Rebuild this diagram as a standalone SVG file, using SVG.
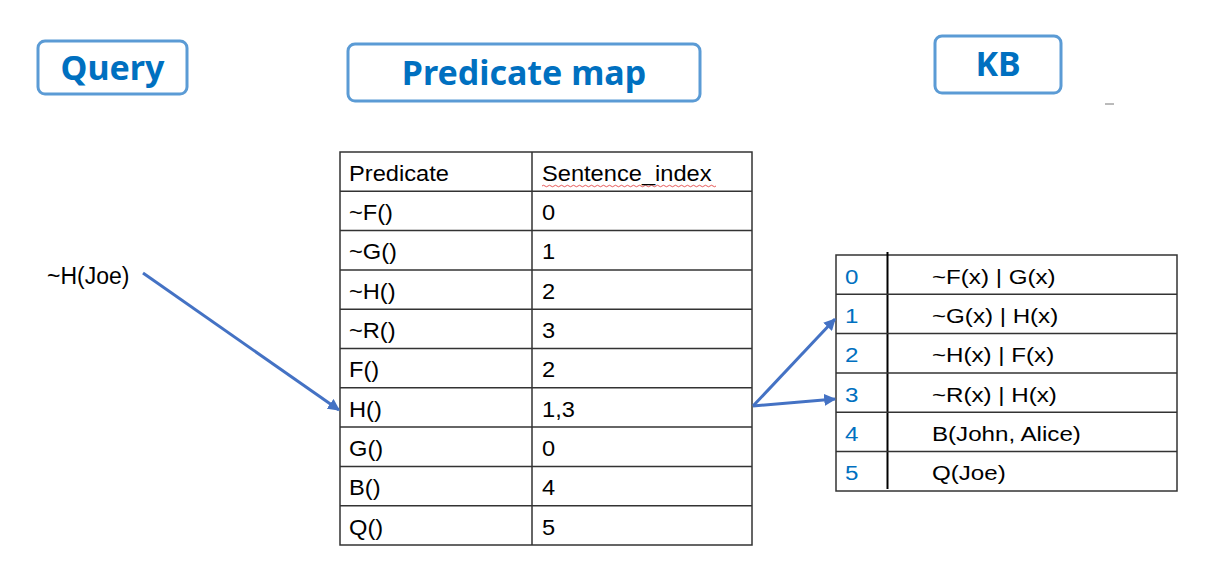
<svg xmlns="http://www.w3.org/2000/svg" width="1209" height="573" viewBox="0 0 1209 573">
<defs>
<style>
.title{fill:#fff;stroke:#5B9BD5;stroke-width:3}
.tt{font-family:"Noto Sans","Open Sans",sans-serif;font-weight:bold;font-size:34px;fill:#0070C0;text-anchor:middle}
.cell{font-family:"Liberation Sans",Arial,sans-serif;font-size:21px;fill:#000}
.pcell{font-family:"Liberation Sans",Arial,sans-serif;font-size:21.5px;fill:#000}
.qtext{font-family:"Liberation Sans",Arial,sans-serif;font-size:23px;fill:#000}
.num{font-family:"Liberation Sans",Arial,sans-serif;font-size:21px;fill:#0070C0}
.grid{stroke:#333;stroke-width:1.5;fill:none}
.conn{stroke:#4472C4;stroke-width:3;fill:none}
</style>
<marker id="ah" viewBox="0 0 10 10" refX="9" refY="5" markerWidth="4" markerHeight="4" orient="auto" markerUnits="strokeWidth">
<path d="M0,0 L10,5 L0,10 z" fill="#4472C4"/>
</marker>
</defs>
<rect width="1209" height="573" fill="#fff"/>

<g id="query-title">
<rect class="title" x="38" y="41" width="149" height="53" rx="7"/>
<text class="tt" x="112.5" y="80">Query</text>
</g>
<g id="predmap-title">
<rect class="title" x="348" y="44" width="352" height="57" rx="7"/>
<text class="tt" x="524" y="85">Predicate map</text>
</g>
<g id="kb-title">
<rect class="title" x="935" y="36" width="126" height="57" rx="7"/>
<text class="tt" x="998" y="76">KB</text>
</g>
<line x1="1105" y1="104" x2="1114" y2="104" stroke="#777" stroke-width="1"/>

<g id="query">
<text class="qtext" x="47" y="284">~H(Joe)</text>
</g>

<g id="predicate-table">
<rect class="grid" x="340" y="152" width="412" height="393"/>
<line class="grid" x1="532" y1="152" x2="532" y2="545"/>
<g class="grid">
<line x1="340" y1="191.3" x2="752" y2="191.3"/>
<line x1="340" y1="230.6" x2="752" y2="230.6"/>
<line x1="340" y1="269.9" x2="752" y2="269.9"/>
<line x1="340" y1="309.2" x2="752" y2="309.2"/>
<line x1="340" y1="348.5" x2="752" y2="348.5"/>
<line x1="340" y1="387.8" x2="752" y2="387.8"/>
<line x1="340" y1="427.1" x2="752" y2="427.1"/>
<line x1="340" y1="466.4" x2="752" y2="466.4"/>
<line x1="340" y1="505.7" x2="752" y2="505.7"/>
</g>
<path d="M542,186 q1.5,-1.5 3,0 t3,0 t3,0 t3,0 t3,0 t3,0 t3,0 t3,0 t3,0 t3,0 t3,0 t3,0 t3,0 t3,0 t3,0 t3,0 t3,0 t3,0 t3,0 t3,0 t3,0 t3,0 t3,0 t3,0 t3,0 t3,0 t3,0 t3,0 t3,0 t3,0 t3,0 t3,0 t3,0 t3,0 t3,0 t3,0 t3,0 t3,0 t3,0 t3,0 t3,0 t3,0 t3,0 t3,0 t3,0 t3,0 t3,0 t3,0 t3,0 t3,0 t3,0 t3,0 t3,0 t3,0 t3,0 t3,0 t3,0 t3,0" fill="none" stroke="#e03030" stroke-width="0.8"/>
<g transform="scale(1.1 1)">
<text class="pcell" x="317.27" y="181">Predicate</text>
<text class="pcell" x="492.73" y="181">Sentence_index</text>
<text class="pcell" x="317.27" y="220.5">~F()</text><text class="pcell" x="492.73" y="220.5">0</text>
<text class="pcell" x="317.27" y="259.5">~G()</text><text class="pcell" x="492.73" y="259.5">1</text>
<text class="pcell" x="317.27" y="299">~H()</text><text class="pcell" x="492.73" y="299">2</text>
<text class="pcell" x="317.27" y="338.5">~R()</text><text class="pcell" x="492.73" y="338.5">3</text>
<text class="pcell" x="317.27" y="377.5">F()</text><text class="pcell" x="492.73" y="377.5">2</text>
<text class="pcell" x="317.27" y="417">H()</text><text class="pcell" x="492.73" y="417">1,3</text>
<text class="pcell" x="317.27" y="456.5">G()</text><text class="pcell" x="492.73" y="456.5">0</text>
<text class="pcell" x="317.27" y="495.5">B()</text><text class="pcell" x="492.73" y="495.5">4</text>
<text class="pcell" x="317.27" y="535">Q()</text><text class="pcell" x="492.73" y="535">5</text>
</g>
</g>

<g id="kb-table">
<rect class="grid" x="836" y="255" width="341" height="236"/>
<line x1="887.5" y1="252" x2="887.5" y2="489" stroke="#000" stroke-width="2"/>
<g class="grid">
<line x1="836" y1="294.3" x2="1177" y2="294.3"/>
<line x1="836" y1="333.6" x2="1177" y2="333.6"/>
<line x1="836" y1="372.9" x2="1177" y2="372.9"/>
<line x1="836" y1="412.2" x2="1177" y2="412.2"/>
<line x1="836" y1="451.5" x2="1177" y2="451.5"/>
</g>
<g transform="scale(1.15 1)">
<text class="num" x="734.78" y="284">0</text><text class="cell" x="810.43" y="284">~F(x) | G(x)</text>
<text class="num" x="734.78" y="323">1</text><text class="cell" x="810.43" y="323">~G(x) | H(x)</text>
<text class="num" x="734.78" y="362">2</text><text class="cell" x="810.43" y="362">~H(x) | F(x)</text>
<text class="num" x="734.78" y="402">3</text><text class="cell" x="810.43" y="402">~R(x) | H(x)</text>
<text class="num" x="734.78" y="441">4</text><text class="cell" x="810.43" y="441">B(John, Alice)</text>
<text class="num" x="734.78" y="480">5</text><text class="cell" x="810.43" y="480">Q(Joe)</text>
</g>
</g>

<g id="connectors">
<line class="conn" x1="143" y1="273" x2="339" y2="410" marker-end="url(#ah)"/>
<line class="conn" x1="753" y1="406" x2="835" y2="319" marker-end="url(#ah)"/>
<line class="conn" x1="753" y1="406" x2="835" y2="399" marker-end="url(#ah)"/>
</g>
</svg>
